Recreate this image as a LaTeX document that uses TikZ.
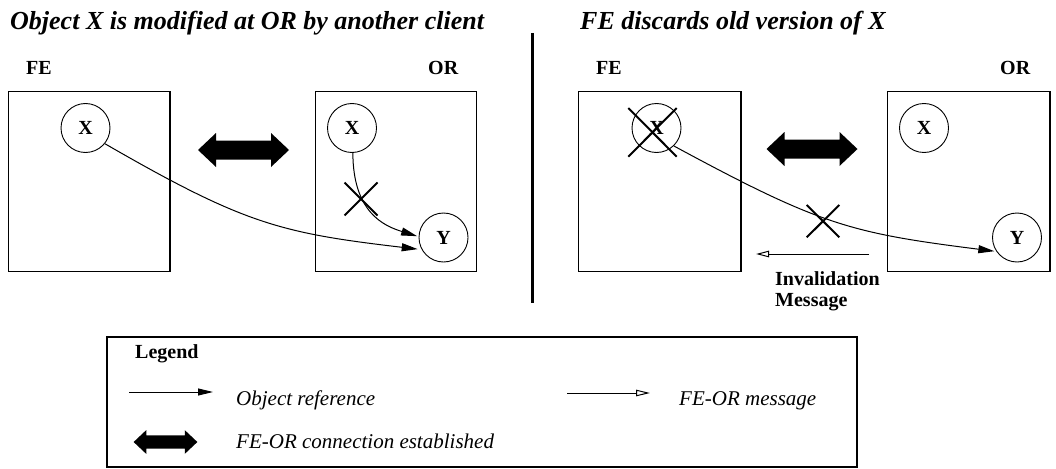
\documentclass[tikz,border=0pt]{standalone}
\usepackage{fontspec}
\setmainfont{Liberation Serif}
\usetikzlibrary{arrows.meta}
\tikzset{
  panelbox/.style={draw, line width=1.3pt},
  obj/.style={circle, draw, line width=0.9pt, minimum size=49pt, inner sep=0pt, font=\fontsize{20}{22}\selectfont\bfseries},
  lbl/.style={inner sep=0pt, font=\fontsize{20}{22}\selectfont\bfseries},
  ttl/.style={inner sep=0pt, font=\fontsize{26}{30}\selectfont\bfseries\itshape},
  legtxt/.style={inner sep=0pt, font=\fontsize{21}{24}\selectfont\itshape},
  ref/.style={line width=1pt, -{Triangle[length=16pt,width=8pt]}},
  msg/.style={line width=1pt, -{Triangle[open,length=13pt,width=6.5pt]}},
  xmark/.style={line width=2pt},
  dblarrow/.pic={\fill (-45.5,0) -- (-27.5,17) -- (-27.5,9.5) -- (27.5,9.5) -- (27.5,17) -- (45.5,0) -- (27.5,-17) -- (27.5,-9.5) -- (-27.5,-9.5) -- (-27.5,-17) -- cycle;}
}
\begin{document}
\begin{tikzpicture}[x=1pt,y=1pt]
\useasboundingbox (0,0) rectangle (1056,-468);
% titles
\node[ttl, anchor=base west] (t1) at (10,-30) {Object X is modified at OR by another client};
\node[ttl, anchor=base west] (t2) at (580,-30) {FE discards old version of X};
% divider
\draw[line width=3pt] (532,-33) coordinate (d1) -- (532,-303) coordinate (d2);
% ---- left panel
\node[lbl, anchor=base west] (lfe) at (26,-75) {FE};
\node[lbl, anchor=base west] (lor) at (428,-75) {OR};
\draw[panelbox] (8.3,-91.7) rectangle (170,-271.7);
\draw[panelbox] (315.3,-91.7) rectangle (476.7,-271.7);
\node[obj] (lfx) at (85.5,-128) {X};
\node[obj] (lox) at (352,-128) {X};
\node[obj] (loy) at (443.5,-237.5) {Y};
\pic at (243.5,-150) {dblarrow};
\draw[ref, shorten >=4pt] (lfx.-39) .. controls (244,-224) and (280,-233) .. (loy.209);
\draw[ref, shorten >=1.5pt] (lox.-88) .. controls (353,-212) and (383.4,-225.8) .. (loy.178);
\draw[xmark] (344.5,-182.5) -- (377.5,-215.5) (377.5,-182.5) -- (344.5,-215.5);
% ---- right panel
\node[lbl, anchor=base west] (rfe) at (596,-75) {FE};
\node[lbl, anchor=base west] (ror) at (1000,-75) {OR};
\draw[panelbox] (578.3,-91.7) rectangle (741,-271.7);
\draw[panelbox] (887.7,-91.7) rectangle (1050,-271.7);
\node[obj] (rfx) at (656.5,-128) {X};
\node[obj] (rox) at (924,-128) {X};
\node[obj] (roy) at (1017,-237.5) {Y};
\draw[xmark] (628.3,-108) -- (676.7,-156.7) (676.7,-108) -- (628.3,-156.7);
\pic at (812,-149) {dblarrow};
\draw[ref, shorten >=2pt] (rfx.-46) .. controls (820,-225) and (850,-233) .. (roy.214);
\draw[xmark] (806.7,-205) -- (839.3,-237.3) (839.3,-205) -- (806.7,-237.3);
\coordinate (ms) at (869,-254);
\coordinate (me) at (756,-254);
\draw[msg] (ms) -- (me);
\node[lbl, anchor=base west] (inv1) at (775,-285) {Invalidation};
\node[lbl, anchor=base west] (inv2) at (775,-306) {Message};
% ---- legend
\draw[line width=1.5pt] (107,-337) rectangle (857,-467);
\node[lbl, anchor=base west] (leg) at (135,-358) {Legend};
\coordinate (a1) at (129,-392);
\coordinate (a2) at (213,-392);
\draw[ref, -{Triangle[length=15pt,width=7pt]}] (a1) -- (a2);
\node[legtxt, anchor=base west] (l1) at (236,-405) {Object reference};
\coordinate (b1) at (567,-393);
\coordinate (b2) at (650,-393);
\draw[msg, -{Triangle[open,length=14pt,width=6.5pt]}] (b1) -- (b2);
\node[legtxt, anchor=base west] (l2) at (679,-405) {FE-OR message};
\pic[scale=0.7] at (165.5,-442) {dblarrow};
\node[legtxt, anchor=base west] (l3) at (236,-448) {FE-OR connection established};
\end{tikzpicture}
\end{document}
